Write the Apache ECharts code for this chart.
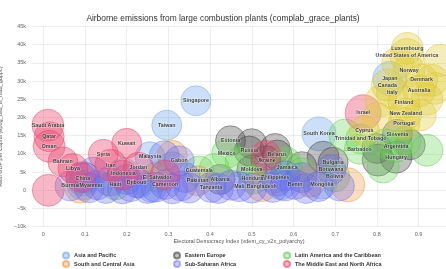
<!DOCTYPE html>
<html>
<head>
<meta charset="utf-8">
<script src="https://cdn.jsdelivr.net/npm/echarts@6/dist/echarts.min.js"></script>
<style>html,body{margin:0;padding:0;background:#fff}#c{width:446px;height:269px}</style>
</head>
<body>
<div id="c"></div>
<script>
// ---- data: [electoral democracy index, real GDP per capita, size weight, label] ----
const asiaPacific = [
  [0.831, 30700, 6, 'Japan'],
  [0.366, 24600, 4, 'Singapore'],
  [0.296, 17900, 4, 'Taiwan'],
  [0.661, 15500, 6, 'South Korea'],
  [0.256, 9200, 4, 'Malaysia'],
  [0.31, 6500, 4, ''],
  [0.095, 3200, 6, 'China'],
  [0.093, 1400, 4, 'Burma/Myanmar'],
  [0.192, 4500, 5, 'Indonesia'],
  [0.23, 2000, 4, ''],
  [0.26, 800, 4, ''],
  [0.556, 3400, 4, 'Philippines'],
  [0.57, 1500, 4, ''],
  [0.668, 1700, 4, 'Mongolia']
];
const easternEurope = [
  [0.449, 13600, 4, 'Estonia'],
  [0.50, 12800, 4, ''],
  [0.494, 10800, 4, 'Russia'],
  [0.556, 11500, 4, ''],
  [0.561, 9700, 4, 'Belarus'],
  [0.534, 8100, 4, 'Ukraine'],
  [0.50, 5600, 4, 'Moldova'],
  [0.424, 3000, 4, 'Albania'],
  [0.62, 6500, 4, ''],
  [0.671, 9100, 5, ''],
  [0.695, 7700, 4, 'Bulgaria'],
  [0.803, 8300, 5, ''],
  [0.80, 11500, 4, ''],
  [0.88, 12500, 4, ''],
  [0.846, 9100, 5, 'Hungary'],
  [0.849, 15400, 4, 'Slovenia']
];
const latinAmerica = [
  [0.44, 10200, 4, 'Mexico'],
  [0.723, 15200, 5, ''],
  [0.761, 14100, 4, 'Trinidad and Tobago'],
  [0.758, 11300, 4, 'Barbados'],
  [0.82, 12800, 4, ''],
  [0.87, 13500, 4, ''],
  [0.846, 12100, 5, 'Argentina'],
  [0.92, 11000, 5, ''],
  [0.815, 6400, 5, ''],
  [0.58, 8000, 4, ''],
  [0.585, 6200, 4, 'Jamaica'],
  [0.62, 4800, 4, ''],
  [0.699, 3700, 4, 'Bolivia'],
  [0.472, 7800, 4, ''],
  [0.505, 3100, 4, 'Honduras'],
  [0.41, 6000, 4, ''],
  [0.374, 5300, 4, 'Guatemala'],
  [0.273, 3600, 4, 'El Salvador'],
  [0.173, 1500, 4, 'Haiti']
];
const southCentralAsia = [
  [0.309, 9600, 4, ''],
  [0.088, 600, 4, ''],
  [0.370, 2600, 4, 'Pakistan'],
  [0.524, 1000, 4, 'Bangladesh'],
  [0.64, 2500, 5, ''],
  [0.730, 1500, 6, '']
];
const subSaharanAfrica = [
  [0.29, 9500, 4, ''],
  [0.10, 3500, 4, ''],
  [0.12, 5000, 4, ''],
  [0.064, 1200, 4, ''],
  [0.11, 700, 4, ''],
  [0.13, 1500, 4, ''],
  [0.15, 500, 4, ''],
  [0.16, 2500, 4, ''],
  [0.19, 400, 4, ''],
  [0.20, 3000, 4, ''],
  [0.21, 1000, 4, ''],
  [0.224, 2100, 4, 'Djibouti'],
  [0.25, 500, 4, ''],
  [0.27, 900, 4, ''],
  [0.292, 1600, 4, 'Cameroon'],
  [0.31, 400, 4, ''],
  [0.326, 8100, 4, 'Gabon'],
  [0.33, 1200, 4, ''],
  [0.34, 3500, 4, ''],
  [0.35, 600, 4, ''],
  [0.402, 800, 4, 'Tanzania'],
  [0.42, 500, 4, ''],
  [0.45, 1400, 4, ''],
  [0.470, 1000, 4, 'Mali'],
  [0.50, 600, 4, ''],
  [0.55, 800, 4, ''],
  [0.56, 2500, 4, ''],
  [0.58, 4000, 4, ''],
  [0.58, 1200, 4, ''],
  [0.604, 1600, 4, 'Benin'],
  [0.62, 3500, 4, ''],
  [0.63, 500, 4, ''],
  [0.66, 1000, 4, ''],
  [0.690, 5700, 4, 'Botswana'],
  [0.71, 1200, 4, '']
];
const middleEast = [
  [0.011, 17900, 5, 'Saudi Arabia'],
  [0.014, 14700, 4, 'Qatar'],
  [0.014, 12100, 5, 'Oman'],
  [0.012, 0, 5, ''],
  [0.047, 7800, 4, 'Bahrain'],
  [0.071, 6000, 4, 'Libya'],
  [0.09, 3500, 4, ''],
  [0.144, 9900, 4, 'Syria'],
  [0.162, 6900, 5, 'Iran'],
  [0.19, 4200, 4, ''],
  [0.200, 12900, 4, 'Kuwait'],
  [0.228, 6300, 4, 'Jordan'],
  [0.292, 4200, 4, ''],
  [0.534, 9600, 4, ''],
  [0.767, 21300, 7, 'Israel']
];
const westernEuropeNA = [
  [0.85, 35000, 5, ''],
  [0.951, 35700, 5, ''],
  [0.932, 30200, 5, ''],
  [0.94, 28000, 5, ''],
  [0.92, 25000, 5, ''],
  [0.81, 24600, 5, ''],
  [0.904, 20700, 5, ''],
  [0.80, 20000, 4, ''],
  [0.873, 39000, 5, 'Luxembourg'],
  [0.872, 37000, 6, 'United States of America'],
  [0.877, 32800, 5, 'Norway'],
  [0.907, 30300, 5, 'Denmark'],
  [0.825, 28900, 5, 'Canada'],
  [0.837, 26800, 5, 'Italy'],
  [0.901, 27300, 5, 'Australia'],
  [0.865, 24100, 5, 'Finland'],
  [0.869, 21000, 5, 'New Zealand'],
  [0.865, 18400, 5, 'Portugal'],
  [0.770, 16400, 4, 'Cyprus']
];
const regionNames = ['Asia and Pacific', 'Eastern Europe', 'Latin America and the Caribbean',
  'South and Central Asia', 'Sub-Saharan Africa', 'The Middle East and North Africa',
  'Western Europe and North America'];
const xTickLabels = ['0', '0.1', '0.2', '0.3', '0.4', '0.5', '0.6', '0.7', '0.8', '0.9'];

const regionData = [asiaPacific, easternEurope, latinAmerica, southCentralAsia, subSaharanAfrica, middleEast, westernEuropeNA];
const fills = ['rgba(110,170,235,0.45)', 'rgba(70,70,70,0.42)', 'rgba(110,215,90,0.42)',
  'rgba(240,150,70,0.42)', 'rgba(105,110,235,0.4)', 'rgba(235,75,115,0.5)', 'rgba(225,205,60,0.45)'];
const borders = ['rgba(100,160,230,0.7)', 'rgba(50,50,50,0.7)', 'rgba(90,195,70,0.7)',
  'rgba(235,140,50,0.7)', 'rgba(95,100,230,0.6)', 'rgba(230,60,100,0.7)', 'rgba(215,190,40,0.6)'];

const FONT = 'Liberation Sans, Arial, sans-serif';
const chart = echarts.init(document.getElementById('c'), null, {renderer: 'canvas'});

const series = regionData.map((d, i) => ({
  name: regionNames[i],
  type: 'scatter',
  xAxisIndex: 0, yAxisIndex: 0,
  data: d,
  symbolSize: v => 22 + 2 * v[2],
  itemStyle: {color: fills[i], borderColor: borders[i], borderWidth: 0.8},
  label: {
    show: true, position: 'inside', formatter: p => p.data[3],
    fontSize: 5.3, fontWeight: 'bold', color: '#111', fontFamily: FONT,
    textBorderColor: 'rgba(255,255,255,0.55)', textBorderWidth: 1.2
  },
  emphasis: {disabled: true},
  clip: false
}));

const legendCommon = {
  orient: 'vertical', top: 251.5, padding: 0, itemGap: 0.5, itemWidth: 6, itemHeight: 6, icon: 'circle',
  height: 17,
  textStyle: {fontSize: 5.5, fontWeight: 'bold', color: '#333', fontFamily: FONT, lineHeight: 6.2},
  selectedMode: false
};

const gridCommon = {containLabel: false, outerBoundsMode: 'none', top: 26.5, bottom: 42.3};

chart.setOption({
  animation: false,
  title: {
    text: 'Airborne emissions from large combustion plants (complab_grace_plants)',
    left: 'center', top: 10,
    textStyle: {fontSize: 8.4, fontWeight: 'normal', color: '#333', fontFamily: FONT}
  },
  legend: [
    Object.assign({left: 62, data: [regionNames[0], regionNames[3]]}, legendCommon),
    Object.assign({left: 173, data: [regionNames[1], regionNames[4]]}, legendCommon),
    Object.assign({left: 283, data: [regionNames[2], regionNames[5]]}, legendCommon)
  ],
  grid: [
    Object.assign({left: 32, right: 0}, gridCommon),
    Object.assign({left: 43.3, right: 27.4}, gridCommon)
  ],
  xAxis: [
    {
      gridIndex: 0, type: 'value', min: -0.0271, max: 0.9657,
      axisLine: {show: false}, axisTick: {show: false}, axisLabel: {show: false}, splitLine: {show: false},
      name: 'Electoral Democracy Index (vdem_cy_v2x_polyarchy)', nameLocation: 'middle', nameGap: 12,
      nameTextStyle: {fontSize: 5.5, color: '#555', fontFamily: FONT}
    },
    {
      gridIndex: 1, type: 'value', min: 0, max: 0.9, interval: 0.1,
      axisLine: {show: false}, axisTick: {show: false},
      axisLabel: {fontSize: 5.5, color: '#666', margin: 5, fontFamily: FONT,
        formatter: v => xTickLabels[Math.round(v * 10)]},
      splitLine: {lineStyle: {color: '#e8e8e8', width: 0.8}}
    }
  ],
  yAxis: [
    {
      gridIndex: 0, type: 'value', min: -10000, max: 45000, interval: 5000,
      axisLine: {show: false}, axisTick: {show: false},
      axisLabel: {fontSize: 5.5, color: '#666', margin: 6, fontFamily: FONT,
        formatter: v => v === 0 ? '0' : (v < 0 ? '\u2212' : '') + Math.abs(v / 1000) + 'k'},
      splitLine: {lineStyle: {color: '#e8e8e8', width: 0.8}},
      name: 'Real GDP per Capita (epog_usd_ts_mad_gdppc)', nameLocation: 'middle', nameGap: 21,
      nameTextStyle: {fontSize: 5.5, color: '#555', fontFamily: FONT}
    },
    {gridIndex: 1, type: 'value', min: -10000, max: 45000, show: false}
  ],
  series: series
});
</script>
</body>
</html>
